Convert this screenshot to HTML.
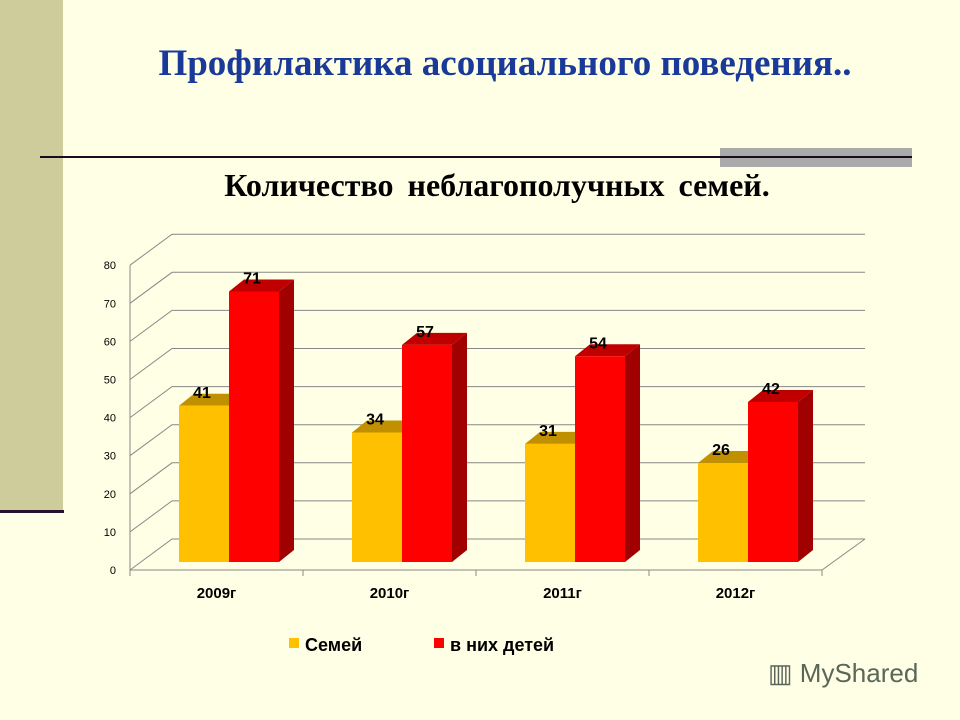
<!DOCTYPE html>
<html><head><meta charset="utf-8"><style>
html,body{margin:0;padding:0}
body{width:960px;height:720px;background:#ffffe5;position:relative;overflow:hidden;font-family:"Liberation Sans",sans-serif}
</style></head><body>
<div style="position:absolute;left:0;top:0;width:63px;height:511px;background:#cfcc9c"></div>
<div style="position:absolute;left:0;top:510px;width:64px;height:3px;background:#2a1030"></div>
<div style="position:absolute;left:0;width:1010px;top:42px;text-align:center;font:bold 37px 'Liberation Serif',serif;color:#1a3a9a;white-space:nowrap">Профилактика асоциального поведения..</div>
<div style="position:absolute;left:720px;top:148px;width:192px;height:19px;background:#aaa"></div>
<div style="position:absolute;left:40px;top:156px;width:872px;height:2px;background:#1a0a20"></div>
<div style="position:absolute;left:0;width:994px;top:167px;text-align:center;font:bold 32px 'Liberation Serif',serif;color:#000;word-spacing:6px;white-space:nowrap">Количество неблагополучных семей.</div>
<svg id="chart" width="960" height="720" style="position:absolute;left:0;top:0"></svg>
<div style="position:absolute;left:768px;top:658px;font:26px 'Liberation Sans',sans-serif;color:#5a665a">▥ MyShared</div>
<script>
const categories=["2009г","2010г","2011г","2012г"];
const families=[41,34,31,26];
const children=[71,57,54,42];
const ticks=[0,10,20,30,40,50,60,70,80];
const NS="http://www.w3.org/2000/svg";
const svg=document.getElementById('chart');
function mk(t,a){const e=document.createElementNS(NS,t);for(const k in a)e.setAttribute(k,a[k]);svg.appendChild(e);return e;}
const X0=130,X1=822,Y0=570,S=3.81,DX=42,DY=-31;
const y=v=>Y0-v*S;
const band=(X1-X0)/categories.length;
ticks.forEach(t=>{
  const g=mk('polyline',{points:`${X0},${y(t)} ${X0+DX},${y(t)+DY} ${X1+DX+1},${y(t)+DY}`,fill:'none',stroke:'#888','stroke-width':1});
  
  const l=mk('text',{x:X0-14,y:y(t)+4,'text-anchor':'end','font-size':11,fill:'#000'});l.textContent=t;
  
});
mk('line',{x1:X0,y1:y(0),x2:X0,y2:y(80),stroke:'#888'});
mk('polyline',{points:`${X0},${Y0} ${X1},${Y0} ${X1+DX+1},${Y0+DY}`,fill:'none',stroke:'#888'});
for(let i=0;i<=categories.length;i++){mk('line',{x1:X0+i*band,y1:Y0,x2:X0+i*band,y2:Y0+6,stroke:'#888'});}
const BY=562,BW=50,SD=15,TD=-12;
function bar(x,v,front,top,side,name){
  const t=BY-v*S;
  const g=document.createElementNS(NS,'g');svg.appendChild(g);
  
  const p=(pts,f)=>{const e=document.createElementNS(NS,'polygon');e.setAttribute('points',pts);e.setAttribute('fill',f);g.appendChild(e);};
  p(`${x+BW},${t} ${x+BW+SD},${t+TD} ${x+BW+SD},${BY+TD} ${x+BW},${BY}`,side);
  p(`${x},${t} ${x+SD},${t+TD} ${x+BW+SD},${t+TD} ${x+BW},${t}`,top);
  p(`${x},${t} ${x+BW},${t} ${x+BW},${BY} ${x},${BY}`,front);
  const l=mk('text',{x:x+BW/2-2,y:t-8,'text-anchor':'middle','font-size':16,'font-weight':'bold',fill:'#000'});l.textContent=v;
  
}
categories.forEach((c,i)=>{
  const bx=X0+i*band+49;
  bar(bx,families[i],'#ffc000','#c09000','#b08800','bar-families');
  bar(bx+BW,children[i],'#ff0000','#c00000','#a00000','bar-children');
  const l=mk('text',{x:X0+i*band+band/2,y:598,'text-anchor':'middle','font-size':15,'font-weight':'bold',fill:'#000'});l.textContent=c;
  
});
const legend=[["Семей","#ffc000",289],["в них детей","#ff0000",434]];
legend.forEach(([n,c,x])=>{
  const r=mk('rect',{x:x,y:638,width:10,height:10,fill:c});
  
  const t=mk('text',{x:x+16,y:651,'font-size':18,'font-weight':'bold',fill:'#000'});t.textContent=n;
  
});
</script>
</body></html>
